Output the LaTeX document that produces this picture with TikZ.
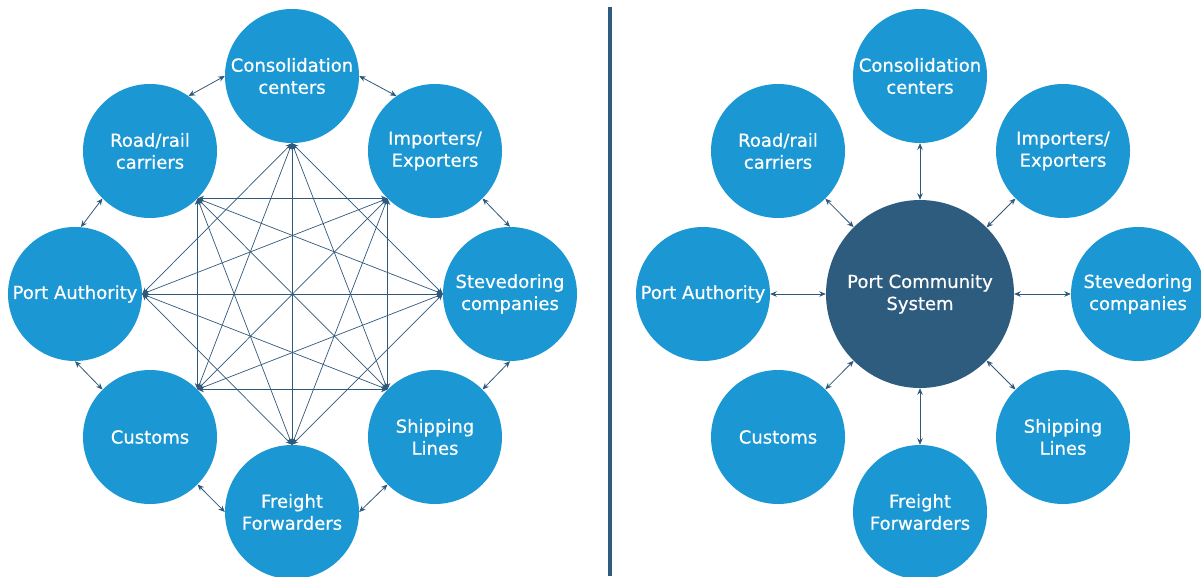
\documentclass[tikz,border=0pt]{standalone}
\usepackage{fontspec}
\setmainfont{DejaVu Sans}
\newfontfamily\labelfont{DejaVu Sans}[FakeBold=0.6]
\usetikzlibrary{arrows.meta}
\definecolor{nodeblue}{RGB}{27,152,211}
\definecolor{pcsblue}{RGB}{46,92,126}
\definecolor{linkblue}{RGB}{47,88,122}
\tikzset{
  party/.style={circle, fill=nodeblue, draw=none, minimum size=134pt, inner sep=0pt,
    text=white, align=center, font=\labelfont\fontsize{18}{22}\selectfont},
  hub/.style={circle, fill=pcsblue, draw=none, minimum size=188pt, inner sep=0pt,
    text=white, align=center, font=\labelfont\fontsize{18}{22}\selectfont},
  link/.style={draw=linkblue, line width=0.8pt,
    {Stealth[length=6.5pt,width=5.5pt]}-{Stealth[length=6.5pt,width=5.5pt]}},
  mesh/.style={draw=linkblue, line width=0.7pt,
    {Stealth[length=6.5pt,width=5.5pt]}-{Stealth[length=6.5pt,width=5.5pt]}},
  divider/.style={draw=pcsblue, line width=3.5pt}
}
\begin{document}
\begin{tikzpicture}[x=1pt,y=-1pt]
\useasboundingbox (0,0) rectangle (1201,576);

% ---------- left diagram ----------
\node[party] (L0) at (292,76)  {Consolidation\\centers};
\node[party] (L1) at (435,151) {Importers/\\Exporters};
\node[party] (L2) at (510,294) {Stevedoring\\companies};
\node[party] (L3) at (435,437) {Shipping\\Lines};
\node[party] (L4) at (292,512) {Freight\\Forwarders};
\node[party] (L5) at (150,437) {Customs};
\node[party] (L6) at (75,294)  {Port Authority};
\node[party] (L7) at (150,151) {Road/rail\\carriers};

% inner attachment points (facing the diagram centre)
\coordinate (P0) at (L0.south);
\coordinate (P1) at (L1.-135);
\coordinate (P2) at (L2.west);
\coordinate (P3) at (L3.135);
\coordinate (P4) at (L4.north);
\coordinate (P5) at (L5.45);
\coordinate (P6) at (L6.east);
\coordinate (P7) at (L7.-45);

\foreach \a/\b in {0/2,0/3,0/4,0/5,0/6,1/3,1/4,1/5,1/6,1/7,2/4,2/5,2/6,2/7,3/5,3/6,3/7,4/6,4/7,5/7}
  \draw[mesh] (P\a) -- (P\b);

% ring connectors between neighbours
\draw[link] (L7.55)   -- (L0.west);
\draw[link] (L0.east) -- (L1.125);
\draw[link] (L1.-45)  -- (L2.north);
\draw[link] (L2.south)-- (L3.45);
\draw[link] (L3.-135) -- (L4.east);
\draw[link] (L4.west) -- (L5.-45);
\draw[link] (L5.135)  -- (L6.south);
\draw[link] (L6.85)   -- (L7.-135);

% ---------- divider ----------
\draw[divider] (610,7) -- (610,576);

% ---------- right diagram ----------
\node[hub] (H) at (920,294) {Port Community\\System};
\node[party] (R0) at (920,76)   {Consolidation\\centers};
\node[party] (R1) at (1063,151) {Importers/\\Exporters};
\node[party] (R2) at (1138,294) {Stevedoring\\companies};
\node[party] (R3) at (1063,437) {Shipping\\Lines};
\node[party] (R4) at (920,512)  {Freight\\Forwarders};
\node[party] (R5) at (778,437)  {Customs};
\node[party] (R6) at (703,294)  {Port Authority};
\node[party] (R7) at (778,151)  {Road/rail\\carriers};

\foreach \i in {0,...,7}
  \draw[link] (R\i) -- (H);
\end{tikzpicture}
\end{document}
